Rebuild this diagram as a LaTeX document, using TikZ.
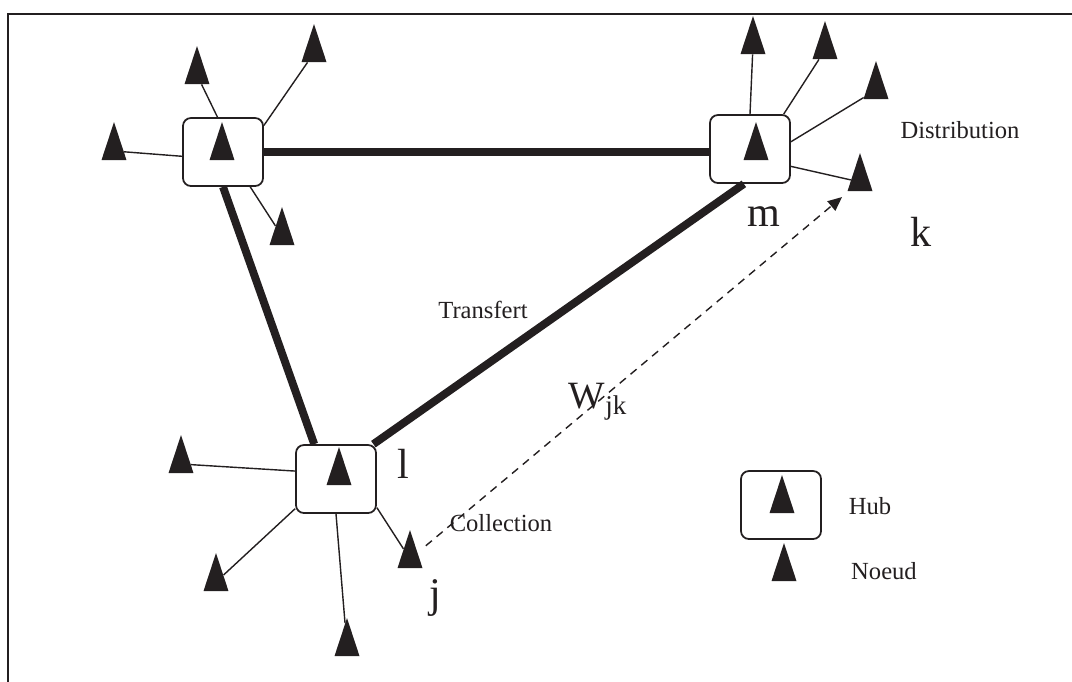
\documentclass[tikz,border=0pt]{standalone}
\usepackage{fontspec}
\setmainfont{Liberation Serif}
\usetikzlibrary{shapes.geometric,arrows.meta}
\definecolor{hbInk}{RGB}{35,31,32}
\tikzset{
    base/.style={text=hbInk, inner sep=0pt},
    hub/.style={draw=hbInk, rectangle, rounded corners=4.5pt, line width=1pt,
                minimum width=1.6cm, minimum height=1.36cm, inner sep=0pt},
    noeud/.style={isosceles triangle, shape border rotate=90, isosceles triangle stretches,
                  fill=hbInk, minimum width=0.5cm, minimum height=0.76cm, inner sep=0pt},
    spoke/.style={draw=hbInk, line width=0.8pt},
    trunk/.style={draw=hbInk, line width=4.5pt},
    flow/.style={draw=hbInk, line width=0.8pt, dash pattern=on 4.5pt off 3.5pt,
                 -{Triangle[length=8pt, width=7pt]}},
    word/.style={base, font=\fontsize{14}{16}\selectfont},
    tag/.style={base, font=\fontsize{24}{28}\selectfont}
}
\begin{document}
\begin{tikzpicture}[x=0.02cm, y=-0.02cm]
  \useasboundingbox (0,0) rectangle (1072,681);
  \clip (0,0) rectangle (1072,681);
  \draw[line width=1.2pt, hbInk] (8,14) rectangle (1090,700);

  % Hubs
  \node[hub] (ha) at (223,152) {};
  \node[hub] (hm) at (750,149) {};
  \node[hub] (hl) at (336,479) {};
  \node[noeud] (ta) at (222,151) {};
  \node[noeud] (tm) at (756,151) {};
  \node[noeud] (tl) at (339,476) {};

  % Nodes round hub a
  \node[noeud] (a1) at (197,75) {};
  \node[noeud] (a2) at (314,53) {};
  \node[noeud] (a3) at (114,151) {};
  \node[noeud] (a4) at (282,236) {};
  \draw[spoke] (ha.99) -- (a1);
  \draw[spoke] (ha.33) -- (a2);
  \draw[spoke] (ha.186) -- (a3);
  \draw[spoke] (ha.-52) -- (a4);

  % Nodes round hub m
  \node[noeud] (m1) at (753,45) {};
  \node[noeud] (m2) at (825,50) {};
  \node[noeud] (m3) at (876,90) {};
  \node[noeud] (k) at (860,182) {};
  \draw[spoke] (hm.90) -- (m1);
  \draw[spoke] (hm.46) -- (m2);
  \draw[spoke] (hm.10) -- (m3);
  \draw[spoke] (hm.-23) -- (k);

  % Nodes round hub l
  \node[noeud] (l1) at (181,464) {};
  \node[noeud] (l2) at (216,582) {};
  \node[noeud] (l3) at (347,647) {};
  \node[noeud] (j) at (410,559) {};
  \draw[spoke] (hl.169) -- (l1);
  \draw[spoke] (hl.-144) -- (l2);
  \draw[spoke] (hl.-90) -- (l3);
  \draw[spoke] (hl.-35) -- (j);

  % Transfer links
  \draw[trunk] (ha.east) -- (hm.west |- ha.east);
  \draw[trunk] (ha.-90) -- (hl.122);
  \draw[trunk] (hl.43) -- (hm.-100);

  % Flow j to k
  \draw[flow, shorten <=6pt, shorten >=5pt] (j) -- (k);

  % Labels
  \node[tag] (lm) at (764,217) {m};
  \node[tag] (lk) at (921,232) {k};
  \node[tag] (ll) at (403,464) {l};
  \node[tag] (lj) at (435,598) {j};
  \node[base, font=\fontsize{22}{26}\selectfont] (w) at (598,402) {W\textsubscript{jk}};
  \node[word] (dist) at (960,130) {Distribution};
  \node[word] (trans) at (483,310) {Transfert};
  \node[word] (coll) at (501,523) {Collection};

  % Legend
  \node[hub] (key1) at (781,505) {};
  \node[noeud] (key1t) at (782,504) {};
  \node[noeud] (key2) at (784,572) {};
  \node[word] at (870,506) {Hub};
  \node[word] at (884,571) {Noeud};
\end{tikzpicture}
\end{document}
